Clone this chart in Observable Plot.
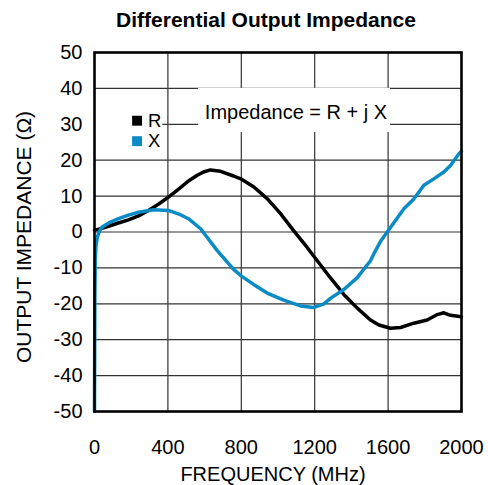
<!DOCTYPE html>
<html>
<head>
<meta charset="utf-8">
<script src="https://cdn.jsdelivr.net/npm/d3@7"></script>
<script src="https://cdn.jsdelivr.net/npm/@observablehq/plot@0.6"></script>
<style>
  html, body { margin: 0; padding: 0; background: white; }
  #title { font: bold 21px "Liberation Sans", Arial, sans-serif; height: 40px; line-height: 40px; width: 488px; box-sizing: border-box; padding-left: 44px; text-align: center; color: #000; }
</style>
</head>
<body>
<div id="title">Differential Output Impedance</div>
<div id="chart"></div>
<script>
// Resistance R (black)
const freqR = [0, 40, 76, 130, 185, 240, 294, 350, 403, 460, 512, 560, 594, 632, 687, 758, 801, 867, 941, 1014, 1085, 1159, 1214, 1286, 1359, 1432, 1504, 1550, 1613, 1668, 1740, 1813, 1868, 1904, 1940, 2000];
const valR  = [0.5, 1.0, 1.6, 2.5, 3.4, 4.5, 6.0, 7.8, 9.7, 12.0, 14.2, 15.8, 16.7, 17.3, 16.9, 15.6, 14.7, 12.6, 9.3, 5.1, 0.4, -4.3, -8.0, -12.8, -17.4, -21.2, -24.5, -25.9, -26.8, -26.6, -25.4, -24.5, -23.0, -22.5, -23.2, -23.6];
// Reactance X (blue)
const freqX = [0, 2, 4, 8, 15, 25, 40, 80, 131, 185, 240, 321, 403, 460, 512, 578, 669, 758, 801, 867, 941, 1031, 1123, 1195, 1250, 1286, 1359, 1432, 1504, 1522, 1559, 1601, 1650, 1686, 1740, 1795, 1849, 1904, 1940, 1986, 2000];
const valX  = [-50, -20, -8, -4, -1.5, 0, 1.3, 2.6, 3.7, 4.7, 5.5, 6.2, 6.0, 5.0, 3.7, 0.9, -5.2, -10.4, -12.3, -14.6, -17.0, -19.0, -20.6, -21.0, -20.0, -18.5, -16.0, -12.7, -8.0, -6.1, -2.6, 0.4, 3.9, 6.5, 9.2, 13.0, 14.8, 16.7, 18.5, 21.8, 22.5];

const xTicks = [0, 400, 800, 1200, 1600, 2000];
const yTicks = [-50, -40, -30, -20, -10, 0, 10, 20, 30, 40, 50];
const seriesNames = ["R", "X"];
const seriesColors = ["#000000", "#0a8bc6"];
const annotation = "Impedance = R + j X";
const xLabel = "FREQUENCY (MHz)";
const yLabel = "OUTPUT IMPEDANCE (Ω)";

const rData = freqR.map((f, i) => ({f, v: valR[i]}));
const xData = freqX.map((f, i) => ({f, v: valX[i]}));

// legend entries and annotation anchored in data space
const legend = [
  {name: seriesNames[0], color: seriesColors[0], f: 232, v: 31.0},
  {name: seriesNames[1], color: seriesColors[1], f: 232, v: 25.3}
];
const legendBox = [{f1: 0, f2: 372, v1: 22, v2: 34}];
const annotBox = [{f1: 567, f2: 1613, v1: 27.7, v2: 40}];
const annotText = [{f: 1098, v: 33.4, t: annotation}];

const chart = Plot.plot({
  width: 488,
  height: 445,
  marginTop: 12,
  marginLeft: 94,
  marginRight: 27,
  marginBottom: 74,
  style: {fontFamily: '"Liberation Sans", Arial, sans-serif', fontSize: "20px", color: "#000", background: "white", overflow: "visible"},
  x: {domain: [0, 2000]},
  y: {domain: [-50, 50]},
  marks: [
    Plot.gridX(xTicks.slice(1, -1), {stroke: "#333", strokeOpacity: 1, strokeWidth: 1.2}),
    Plot.gridY(yTicks.slice(1, -1), {stroke: "#333", strokeOpacity: 1, strokeWidth: 1.2}),
    Plot.rect(legendBox, {x1: "f1", x2: "f2", y1: "v1", y2: "v2", fill: "white"}),
    Plot.rect(annotBox, {x1: "f1", x2: "f2", y1: "v1", y2: "v2", fill: "white"}),
    Plot.line(rData, {x: "f", y: "v", stroke: seriesColors[0], strokeWidth: 3.5}),
    Plot.line(xData, {x: "f", y: "v", stroke: seriesColors[1], strokeWidth: 3.5}),
    Plot.dot(legend, {x: "f", y: "v", symbol: "square", fill: "color", r: 5.6, stroke: null}),
    Plot.text(legend, {x: "f", y: "v", text: "name", dx: 11, textAnchor: "start", fontSize: 18.5, fill: "#000"}),
    Plot.text(annotText, {x: "f", y: "v", text: "t", fontSize: 20, fill: "#000"}),
    Plot.axisX(xTicks, {tickSize: 0, tickPadding: 28, tickFormat: d => String(d), label: null, fontSize: 20}),
    Plot.axisY(yTicks, {tickSize: 0, tickPadding: 12, tickFormat: d => String(d), label: null, fontSize: 20}),
    Plot.text([xLabel], {frameAnchor: "bottom", dy: 63, lineAnchor: "middle", fontSize: 20, fill: "#000", dx: -5}),
    Plot.text([yLabel], {frameAnchor: "left", rotate: -90, dx: -70, dy: 5, textAnchor: "middle", lineAnchor: "middle", fontSize: 21, fill: "#000"}),
    Plot.frame({stroke: "#000", strokeWidth: 2.6})
  ]
});
document.getElementById("chart").appendChild(chart);
</script>
</body>
</html>
